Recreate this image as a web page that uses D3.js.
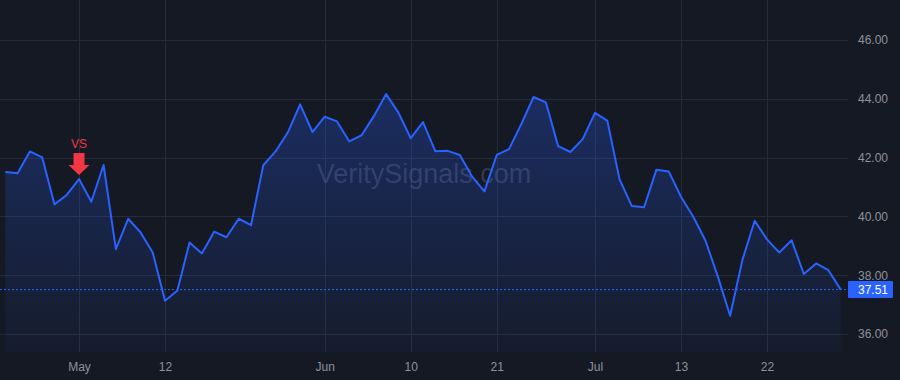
<!DOCTYPE html>
<html>
<head>
<meta charset="utf-8">
<script src="https://cdn.jsdelivr.net/npm/d3@7"></script>
<style>
  html, body { margin: 0; padding: 0; background: #151924; }
  svg { display: block; }
  text { font-family: "Liberation Sans", Arial, sans-serif; }
</style>
</head>
<body>
<svg id="chart" width="900" height="380"></svg>
<script>
const prices = [41.51, 41.47, 42.21, 42.01, 40.41, 40.73, 41.27, 40.50, 41.75, 38.89,
  39.92, 39.46, 38.77, 37.13, 37.47, 39.11, 38.74, 39.48, 39.29, 39.92,
  39.70, 41.74, 42.21, 42.86, 43.81, 42.87, 43.39, 43.23, 42.55, 42.76,
  43.41, 44.16, 43.53, 42.66, 43.21, 42.22, 42.23, 42.09, 41.35, 40.85,
  42.09, 42.29, 43.14, 44.06, 43.88, 42.39, 42.19, 42.63, 43.52, 43.26,
  41.26, 40.35, 40.31, 41.59, 41.53, 40.67, 39.99, 39.17, 37.95, 36.62,
  38.52, 39.85, 39.22, 38.77, 39.19, 38.04, 38.40, 38.17, 37.51];
const xTickIndex = [6, 13, 26, 33, 40, 48, 55, 62];
const xTickLabels = ["May", "12", "Jun", "10", "21", "Jul", "13", "22"];
const yTicks = [36, 38, 40, 42, 44, 46];
const signalIndex = [6];
const signalLabels = ["VS"];
const lastPrice = 37.51;

const W = 900, H = 380;
const plotRight = 848, plotBottom = 352;
const svg = d3.select("#chart");

const x = d3.scaleLinear().domain([0, prices.length - 1]).range([5.3, 840.7]);
const y = d3.scaleLinear().domain([36, 46]).range([334, 40]);

const defs = svg.append("defs");
const grad = defs.append("linearGradient").attr("id", "areaGrad")
  .attr("x1", 0).attr("y1", 0).attr("x2", 0).attr("y2", 1)
  .attr("gradientUnits", "userSpaceOnUse")
  .attr("y1", y(44.2)).attr("y2", plotBottom);
grad.append("stop").attr("offset", 0).attr("stop-color", "#2962ff").attr("stop-opacity", 0.28);
grad.append("stop").attr("offset", 1).attr("stop-color", "#2962ff").attr("stop-opacity", 0.04);

// grid
const grid = svg.append("g");
grid.selectAll("line.h").data(yTicks).join("line")
  .attr("x1", 0).attr("x2", plotRight)
  .attr("y1", d => Math.round(y(d)) + 0.5).attr("y2", d => Math.round(y(d)) + 0.5)
  .attr("stroke", "#262b38").attr("stroke-width", 1);
grid.selectAll("line.v").data(xTickIndex).join("line")
  .attr("y1", 0).attr("y2", plotBottom)
  .attr("x1", d => Math.round(x(d)) + 0.5).attr("x2", d => Math.round(x(d)) + 0.5)
  .attr("stroke", "#262b38").attr("stroke-width", 1);

// watermark
svg.append("text").attr("x", 424).attr("y", 183)
  .attr("text-anchor", "middle").attr("font-size", 27)
  .attr("fill", "#7a8099").attr("fill-opacity", 0.32)
  .text("VeritySignals.com");

// area + line
const area = d3.area().x((d, i) => x(i)).y0(plotBottom).y1(d => y(d));
svg.append("path").datum(prices).attr("d", area).attr("fill", "url(#areaGrad)");
const line = d3.line().x((d, i) => x(i)).y(d => y(d));
svg.append("path").datum(prices).attr("d", line)
  .attr("fill", "none").attr("stroke", "#2962ff").attr("stroke-width", 2)
  .attr("stroke-linejoin", "round");

// last price dotted line
svg.append("line").attr("x1", 0).attr("x2", plotRight)
  .attr("y1", y(lastPrice)).attr("y2", y(lastPrice))
  .attr("stroke", "#2962ff").attr("stroke-width", 1).attr("stroke-dasharray", "2,2");

// right axis
const yAxis = d3.axisRight(y).tickValues(yTicks).tickFormat(d3.format(".2f")).tickSize(0).tickPadding(10);
const ya = svg.append("g").attr("transform", `translate(${plotRight},0)`).call(yAxis);
ya.select(".domain").remove();
ya.selectAll("text").attr("fill", "#8e919b").attr("font-size", 12)
  .attr("font-family", "'Liberation Sans', Arial, sans-serif");

// bottom axis
const xAxis = d3.axisBottom(x).tickValues(xTickIndex)
  .tickFormat((d, i) => xTickLabels[i]).tickSize(0).tickPadding(10);
const xa = svg.append("g").attr("transform", `translate(0,${plotBottom})`).call(xAxis);
xa.select(".domain").remove();
xa.selectAll("text").attr("fill", "#8e919b").attr("font-size", 12)
  .attr("font-family", "'Liberation Sans', Arial, sans-serif");

// price label
const lp = svg.append("g").attr("transform", `translate(${plotRight},${y(lastPrice)})`);
lp.append("rect").attr("x", 0).attr("y", -8.5).attr("width", 45).attr("height", 17)
  .attr("rx", 1).attr("fill", "#2962ff");
lp.append("text").attr("x", 10).attr("y", 4.5).attr("fill", "#ffffff")
  .attr("font-size", 12).text(lastPrice.toFixed(2));

// signal marker
signalIndex.forEach((si, k) => {
  const cx = x(si), tip = y(prices[si]) - 4;
  const g = svg.append("g").attr("transform", `translate(${cx},${tip})`);
  g.append("path")
    .attr("d", "M0,0 L-10.5,-10 L-5.5,-10 L-5.5,-22 L5.5,-22 L5.5,-10 L10.5,-10 Z")
    .attr("fill", "#f23645");
  g.append("text").attr("x", 0).attr("y", -27).attr("text-anchor", "middle")
    .attr("font-size", 12).attr("fill", "#f23645").text(signalLabels[k]);
});
</script>
</body>
</html>
